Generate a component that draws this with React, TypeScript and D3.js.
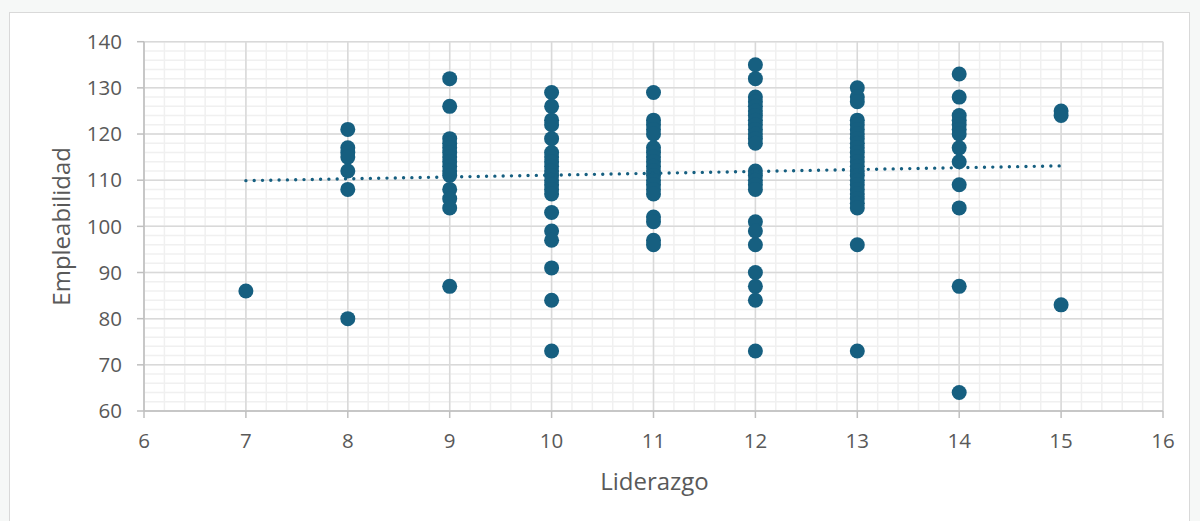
import React from "react";
import * as d3 from "d3";

// Liderazgo (x) vs Empleabilidad (y) values, grouped by x
const liderazgo7 = [86];
const liderazgo8 = [121, 117, 116, 115, 112, 108, 80];
const liderazgo9 = [132, 126, 119, 118, 117, 116, 115, 114, 113, 112, 111, 108, 106, 104, 87];
const liderazgo10 = [129, 126, 123, 122, 119, 116, 115, 114, 113, 112, 111, 110, 109, 108, 107, 103, 99, 97, 91, 84, 73];
const liderazgo11 = [129, 123, 122, 121, 120, 117, 116, 115, 114, 113, 112, 111, 110, 109, 108, 107, 102, 101, 97, 96];
const liderazgo12 = [135, 132, 128, 127, 126, 125, 124, 123, 122, 121, 120, 119, 118, 112, 111, 110, 109, 108, 101, 99, 96, 90, 87, 84, 73];
const liderazgo13 = [130, 128, 127, 123, 122, 121, 120, 119, 118, 117, 116, 115, 114, 113, 112, 111, 110, 109, 108, 107, 106, 105, 104, 96, 73];
const liderazgo14 = [133, 128, 124, 123, 122, 121, 120, 117, 114, 109, 104, 87, 64];
const liderazgo15 = [125, 124, 83];

// linear trend line (start / end)
const trendX = [7, 15];
const trendY = [109.9, 113.1];

const xTicks = [6, 7, 8, 9, 10, 11, 12, 13, 14, 15, 16];
const yTicks = [60, 70, 80, 90, 100, 110, 120, 130, 140];
const xTitle = "Liderazgo";
const yTitle = "Empleabilidad";

const groups: [number, number[]][] = [
  [7, liderazgo7],
  [8, liderazgo8],
  [9, liderazgo9],
  [10, liderazgo10],
  [11, liderazgo11],
  [12, liderazgo12],
  [13, liderazgo13],
  [14, liderazgo14],
  [15, liderazgo15],
];

const points = groups.flatMap(([x, ys]) => ys.map((y) => ({ x, y })));
const trend = trendX.map((x, i) => ({ x, y: trendY[i] }));

const W = 1200;
const H = 521;
const M = { left: 144, right: 1163, top: 41.7, bottom: 411 };
const COLOR = "#165f80";
const TEXT = "#595959";
const FONT = "'Open Sans', 'Liberation Sans', sans-serif";

export default function App() {
  const x = d3.scaleLinear().domain([6, 16]).range([M.left, M.right]);
  const y = d3.scaleLinear().domain([60, 140]).range([M.bottom, M.top]);

  const xMinor = d3.range(6, 16.0001, 0.2);
  const yMinor = d3.range(60, 140.0001, 2);

  const line = d3
    .line<{ x: number; y: number }>()
    .x((p) => x(p.x))
    .y((p) => y(p.y));

  return (
    <svg
      width={W}
      height={H}
      style={{ position: "absolute", left: 0, top: 0, background: "#ffffff" }}
      fontFamily={FONT}
    >
      <rect x={0} y={0} width={W} height={H} fill="#f6f8f7" />
      <rect x={9.5} y={12.5} width={1180} height={H} fill="#ffffff" stroke="#d9d9d9" strokeWidth={1} />

      {/* minor grid */}
      <g stroke="#f0f0f0" strokeWidth={1.5}>
        {xMinor.map((v, i) => (
          <line key={"xm" + i} x1={x(v)} x2={x(v)} y1={M.top} y2={M.bottom} />
        ))}
        {yMinor.map((v, i) => (
          <line key={"ym" + i} x1={M.left} x2={M.right} y1={y(v)} y2={y(v)} />
        ))}
      </g>
      {/* major grid */}
      <g stroke="#d9d9d9" strokeWidth={1.5}>
        {xTicks.map((v) => (
          <line key={"xM" + v} x1={x(v)} x2={x(v)} y1={M.top} y2={M.bottom} />
        ))}
        {yTicks.map((v) => (
          <line key={"yM" + v} x1={M.left} x2={M.right} y1={y(v)} y2={y(v)} />
        ))}
      </g>
      {/* axes */}
      <g stroke="#bfbfbf" strokeWidth={1.5}>
        <line x1={M.left} x2={M.right} y1={M.bottom} y2={M.bottom} />
        <line x1={M.left} x2={M.left} y1={M.top} y2={M.bottom} />
        {xTicks.map((v) => (
          <line key={"xt" + v} x1={x(v)} x2={x(v)} y1={M.bottom} y2={M.bottom + 7} />
        ))}
        {yTicks.map((v) => (
          <line key={"yt" + v} x1={M.left - 7} x2={M.left} y1={y(v)} y2={y(v)} />
        ))}
      </g>

      {/* tick labels */}
      <g fill={TEXT} fontSize={20.5}>
        {xTicks.map((v) => (
          <text key={"xl" + v} x={x(v)} y={M.bottom + 37} textAnchor="middle">
            {v}
          </text>
        ))}
        {yTicks.map((v) => (
          <text key={"yl" + v} x={M.left - 22} y={y(v)} dy="0.35em" textAnchor="end">
            {v}
          </text>
        ))}
      </g>

      {/* axis titles */}
      <text x={(M.left + M.right) / 2 + 1} y={490} textAnchor="middle" fill={TEXT} fontSize={24}>
        {xTitle}
      </text>
      <text
        transform={`translate(70, ${(M.top + M.bottom) / 2}) rotate(-90)`}
        textAnchor="middle"
        fill={TEXT}
        fontSize={24}
      >
        {yTitle}
      </text>

      {/* points */}
      <g fill={COLOR}>
        {points.map((p, i) => (
          <circle key={i} cx={x(p.x)} cy={y(p.y)} r={7.5} />
        ))}
      </g>

      {/* trend line */}
      <path
        d={line(trend) || ""}
        fill="none"
        stroke={COLOR}
        strokeWidth={3.4}
        strokeLinecap="round"
        strokeDasharray="0 8.3"
      />
    </svg>
  );
}
